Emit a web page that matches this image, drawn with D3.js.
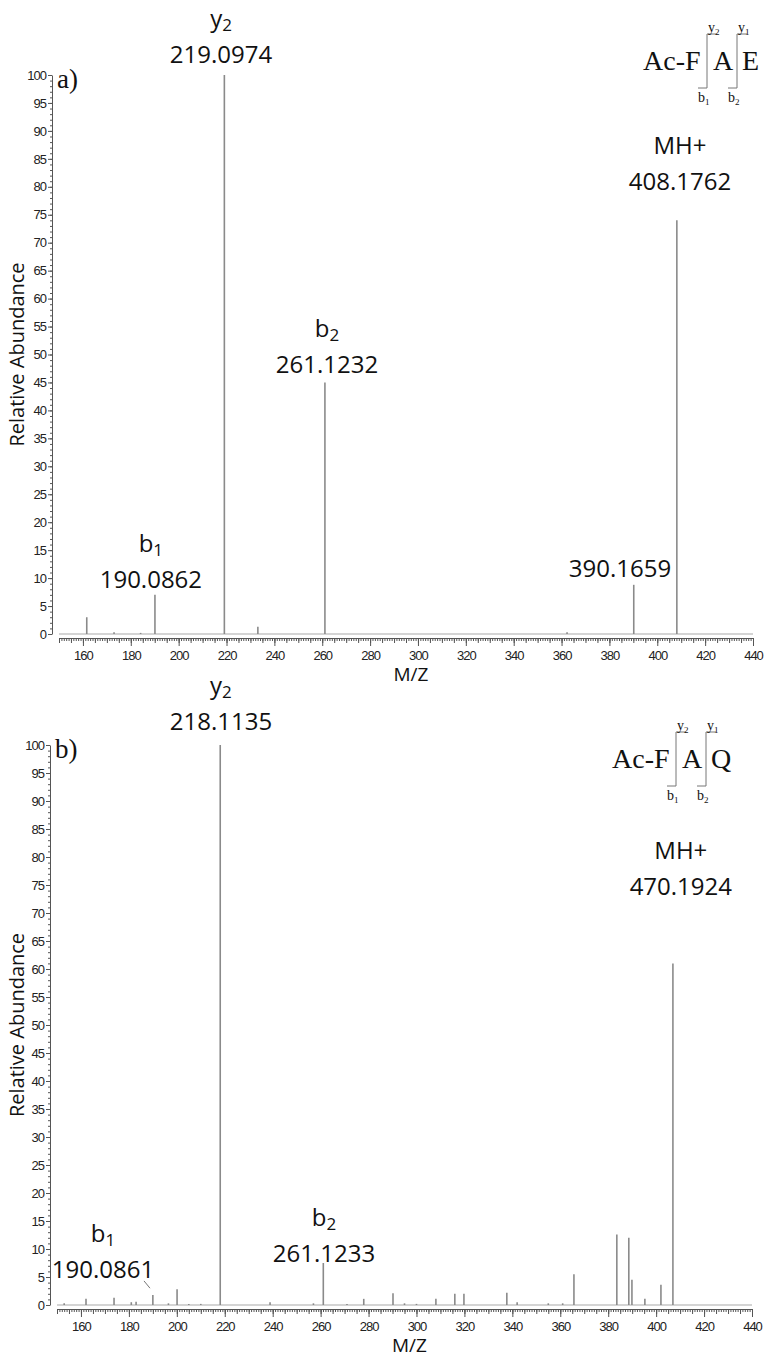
<!DOCTYPE html>
<html>
<head>
<meta charset="utf-8">
<script src="https://d3js.org/d3.v7.min.js"></script>
<style>
  body { margin: 0; background: #fff; }
  .ax .tick text { font-family: "Liberation Sans Narrow", "Liberation Sans", sans-serif; font-size: 13px; letter-spacing: -1px; fill: #222; }
  .ax path, .ax line { stroke: #555; }
  .lbl { font-family: "Open Sans", sans-serif; fill: #111; }
  .serif { font-family: "Liberation Serif", "Times New Roman", serif; fill: #111; }
</style>
</head>
<body>
<div id="fig"></div>
<script>
// ---- data ----
const mzDomain = [150, 440]
const xTicks = d3.range(160, 441, 20)
const yTicks = d3.range(0, 101, 5)

// a) Ac-FAE
const mzA  = [161.6, 173.0, 184.1, 190.09, 219.10, 233.1, 261.12, 362.3, 390.17, 408.18]
const intA = [3.0,   0.3,   0.2,   7.0,    100,    1.3,   45,     0.3,   8.8,    74]
const ionA   = ["y", "b", "b", "", "MH+"]
const subA   = ["2", "2", "1", "", ""]
const massA  = ["219.0974", "261.1232", "190.0862", "390.1659", "408.1762"]
const labXA  = [217.7, 262.0, 188.4, 384.4, 409.5]
const labYA  = [102.1, 46.7, 8.2, 10.2, 79.4]

// b) Ac-FAQ
const mzB  = [153, 162.1, 173.8, 181, 183, 190.0, 196.5, 200.1, 205, 210, 218.11, 238.9, 257, 261.12, 271,
              278, 290.2, 295, 300, 308.1, 316.0, 319.8, 337.7, 342, 355, 361, 365.7, 383.6, 388.6, 389.9, 395.3, 402.0, 407.0]
const intB = [0.3, 1.1, 1.3, 0.5, 0.6, 1.8, 0.3, 2.8, 0.2, 0.2, 100, 0.5, 0.3, 7.5, 0.2,
              1.1, 2.1, 0.3, 0.2, 1.1, 2.0, 2.0, 2.2, 0.5, 0.3, 0.3, 5.5, 12.6, 12.0, 4.5, 1.1, 3.6, 61]
const ionB   = ["y", "b", "b", "MH+"]
const subB   = ["2", "2", "1", ""]
const massB  = ["218.1135", "261.1233", "190.0861", "470.1924"]
const labXB  = [218.4, 261.4, 169.2, 410.3]
const labYB  = [102.7, 7.7, 4.8, 73.2]

const seqA = ["Ac-F", "A", "E"]
const seqB = ["Ac-F", "A", "Q"]

// ---- layout ----
const W = 765, H = 1359
const svg = d3.select("#fig").append("svg").attr("width", W).attr("height", H)

const panels = [
  { tag: "a)", mz: mzA, ab: intA, ion: ionA, sub: subA, mass: massA, lx: labXA, ly: labYA, seq: seqA,
    left: 59, right: 753, y0: 634, y100: 75, axisX: 52, seqX: 643, seqY: 70, leader: null },
  { tag: "b)", mz: mzB, ab: intB, ion: ionB, sub: subB, mass: massB, lx: labXB, ly: labYB, seq: seqB,
    left: 57, right: 752, y0: 1305, y100: 745, axisX: 50, seqX: 612, seqY: 768, leader: [[186.3, 4.3], [188.8, 3.0]] }
]

const drawPanel = (p) => {
  const x = d3.scaleLinear().domain(mzDomain).range([p.left, p.right])
  const y = d3.scaleLinear().domain([0, 100]).range([p.y0, p.y100])
  const g = svg.append("g")

  // baseline of the spectrum
  g.append("line")
    .attr("x1", x(mzDomain[0])).attr("x2", x(mzDomain[1]))
    .attr("y1", y(0)).attr("y2", y(0))
    .attr("stroke", "#aaa").attr("stroke-width", 1.2)

  // peaks
  g.append("g").selectAll("line")
    .data(d3.zip(p.mz, p.ab))
    .join("line")
    .attr("x1", d => x(d[0])).attr("x2", d => x(d[0]))
    .attr("y1", y(0)).attr("y2", d => y(d[1]))
    .attr("stroke", "#8a8a8a").attr("stroke-width", 1.6)

  // x axis : minor / mid / major ticks
  const xPos = y(0) + 4
  g.append("g").attr("class", "ax").attr("transform", `translate(0,${xPos})`)
    .call(d3.axisBottom(x).tickValues(d3.range(150, 441, 1)).tickSize(3).tickFormat(""))
    .call(s => s.select(".domain").remove())
  g.append("g").attr("class", "ax").attr("transform", `translate(0,${xPos})`)
    .call(d3.axisBottom(x).tickValues(d3.range(150, 441, 5)).tickSize(5).tickFormat(""))
    .call(s => s.select(".domain").remove())
  g.append("g").attr("class", "ax").attr("transform", `translate(0,${xPos})`)
    .call(d3.axisBottom(x).tickValues(xTicks).tickSize(8).tickSizeOuter(0).tickPadding(5).tickFormat(d3.format("d")))

  // y axis
  g.append("g").attr("class", "ax").attr("transform", `translate(${p.axisX},0)`)
    .call(d3.axisLeft(y).tickValues(d3.range(0, 101, 1)).tickSize(2).tickFormat(""))
    .call(s => s.select(".domain").remove())
  g.append("g").attr("class", "ax").attr("transform", `translate(${p.axisX},0)`)
    .call(d3.axisLeft(y).tickValues(yTicks).tickSize(4).tickSizeOuter(0).tickPadding(2))

  // axis titles
  g.append("text").attr("class", "lbl")
    .attr("transform", `translate(24,${(p.y0 + p.y100) / 2}) rotate(-90)`)
    .attr("text-anchor", "middle").attr("font-size", 20)
    .text("Relative Abundance")
  g.append("text").attr("class", "lbl")
    .attr("x", (p.left + p.right) / 2 + 5).attr("y", p.y0 + 47)
    .attr("text-anchor", "middle").attr("font-size", 19)
    .text("M/Z")

  // panel tag
  g.append("text").attr("class", "serif")
    .attr("x", p.axisX + 5).attr("y", p.y100 + 13)
    .attr("font-size", 27).text(p.tag)

  // peak annotations
  p.mass.forEach((m, i) => {
    const cx = x(p.lx[i]), by = y(p.ly[i])
    g.append("text").attr("class", "lbl")
      .attr("x", cx).attr("y", by).attr("text-anchor", "middle")
      .attr("font-size", 24).text(m)
    if (p.ion[i]) {
      const t = g.append("text").attr("class", "lbl")
        .attr("x", cx).attr("y", by - 36).attr("text-anchor", "middle")
        .attr("font-size", 24)
      t.append("tspan").text(p.ion[i])
      if (p.sub[i]) t.append("tspan").attr("font-size", 17).attr("dy", 4).text(p.sub[i])
    }
  })
  if (p.leader) {
    g.append("line")
      .attr("x1", x(p.leader[0][0])).attr("y1", y(p.leader[0][1]))
      .attr("x2", x(p.leader[1][0])).attr("y2", y(p.leader[1][1]))
      .attr("stroke", "#777").attr("stroke-width", 1)
  }

  // peptide sequence with fragment brackets
  const sx = p.seqX, sy = p.seqY
  const s = g.append("g").attr("class", "serif")
  s.append("text").attr("x", sx).attr("y", sy).attr("font-size", 28).text(p.seq[0])
  s.append("text").attr("x", sx + 70).attr("y", sy).attr("font-size", 28).text(p.seq[1])
  s.append("text").attr("x", sx + 99).attr("y", sy).attr("font-size", 28).text(p.seq[2])
  const brackets = [[sx + 64, "y", "2", "b", "1"], [sx + 94, "y", "1", "b", "2"]]
  brackets.forEach(b => {
    s.append("path")
      .attr("d", `M${b[0] + 10},${sy - 36}H${b[0]}V${sy + 18}H${b[0] - 9}`)
      .attr("fill", "none").attr("stroke", "#777").attr("stroke-width", 1)
    const t1 = s.append("text").attr("x", b[0] + 1).attr("y", sy - 38).attr("font-size", 14)
    t1.append("tspan").text(b[1])
    t1.append("tspan").attr("font-size", 9).attr("dy", 3).text(b[2])
    const t2 = s.append("text").attr("x", b[0] - 9).attr("y", sy + 32).attr("font-size", 14)
    t2.append("tspan").text(b[3])
    t2.append("tspan").attr("font-size", 9).attr("dy", 3).text(b[4])
  })
}

panels.forEach(drawPanel)
</script>
</body>
</html>
